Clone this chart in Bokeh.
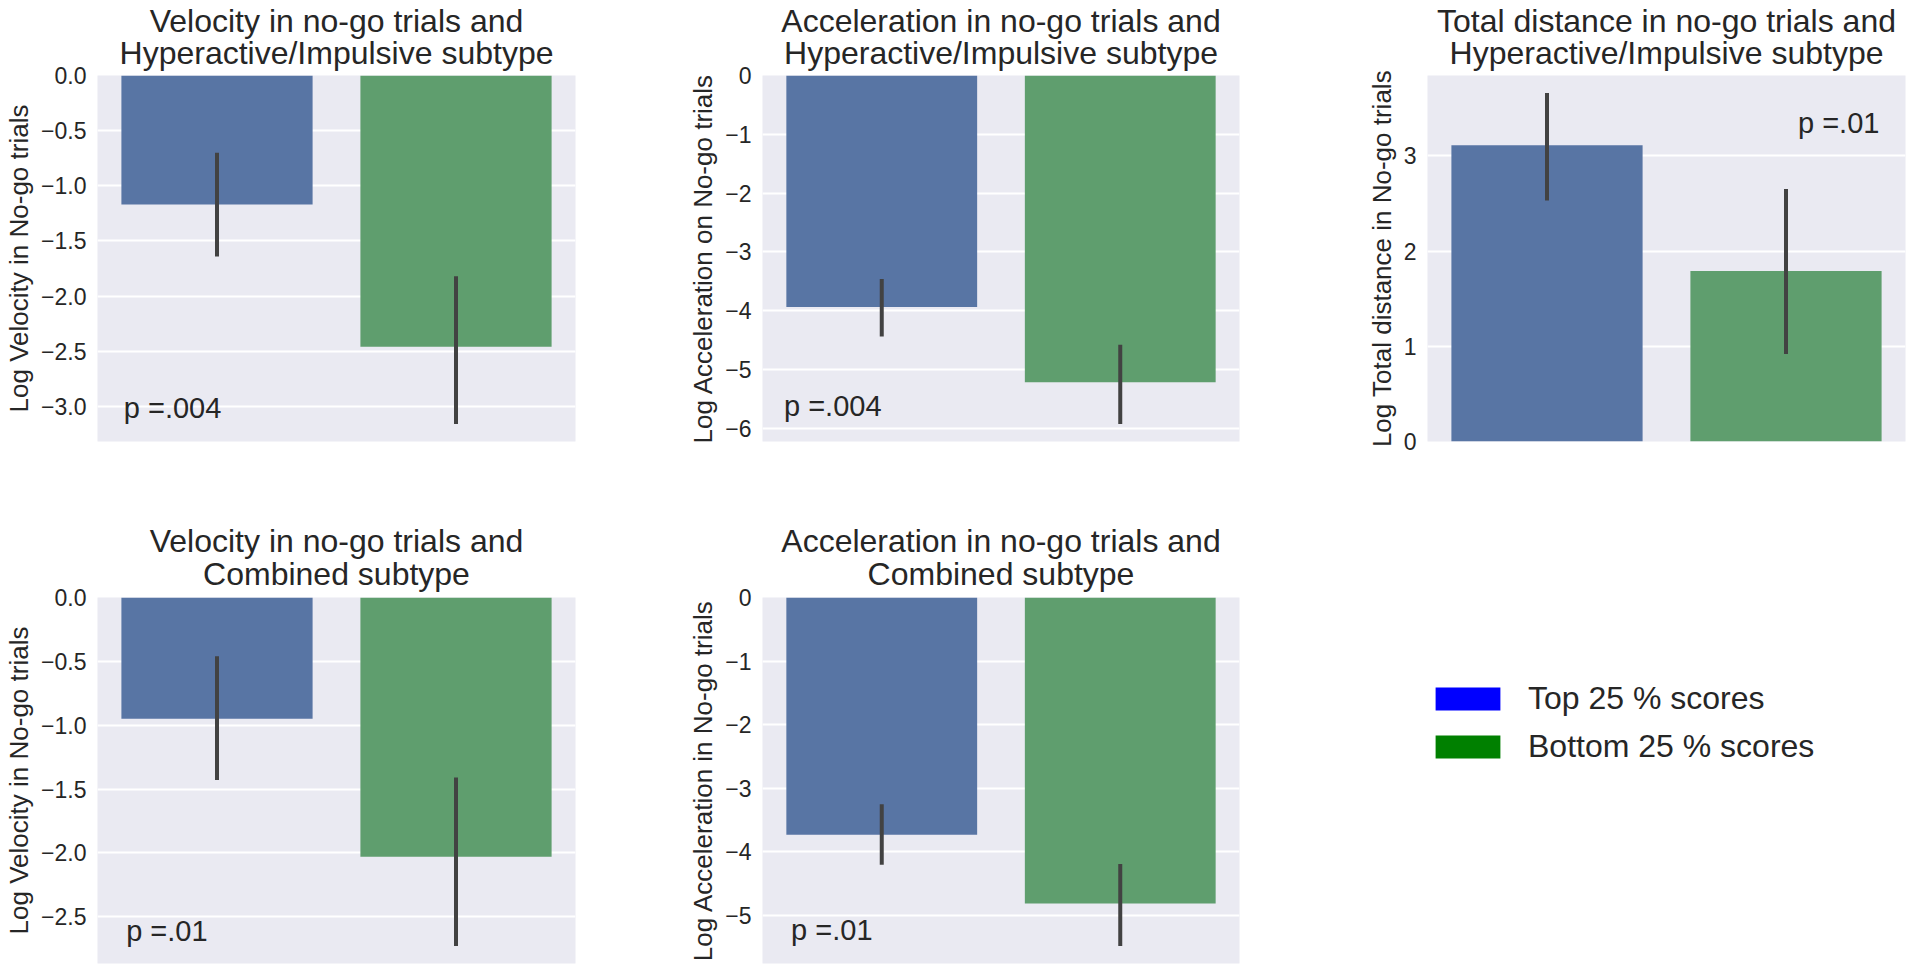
from bokeh.plotting import figure
from bokeh.models import Range1d, FixedTicker, Legend, LegendItem, ColumnDataSource, Title
from bokeh.layouts import column, row
from bokeh.embed import file_html
from bokeh.resources import INLINE
from bokeh.core.properties import value

# ---------------- data ----------------
groups = ["Top 25 % scores", "Bottom 25 % scores"]
legend_colors = ["blue", "green"]
bar_colors = ["#5875A4", "#5F9E6E"]

vel_hi_mean = [-1.17, -2.46]
vel_hi_lo = [-1.64, -3.16]
vel_hi_hi = [-0.70, -1.82]

acc_hi_mean = [-3.94, -5.22]
acc_hi_lo = [-4.44, -5.93]
acc_hi_hi = [-3.46, -4.58]

dist_hi_mean = [3.11, 1.79]
dist_hi_lo = [2.53, 0.92]
dist_hi_hi = [3.66, 2.65]

vel_comb_mean = [-0.95, -2.03]
vel_comb_lo = [-1.43, -2.73]
vel_comb_hi = [-0.46, -1.41]

acc_comb_mean = [-3.73, -4.81]
acc_comb_lo = [-4.20, -5.48]
acc_comb_hi = [-3.25, -4.19]

ticks_vel_hi = [0.0, -0.5, -1.0, -1.5, -2.0, -2.5, -3.0]
labels_vel_hi = ["0.0", "\u22120.5", "\u22121.0", "\u22121.5", "\u22122.0", "\u22122.5", "\u22123.0"]
ticks_acc_hi = [0, -1, -2, -3, -4, -5, -6]
labels_acc_hi = ["0", "\u22121", "\u22122", "\u22123", "\u22124", "\u22125", "\u22126"]
ticks_dist_hi = [0, 1, 2, 3]
labels_dist_hi = ["0", "1", "2", "3"]
ticks_vel_comb = [0.0, -0.5, -1.0, -1.5, -2.0, -2.5]
labels_vel_comb = ["0.0", "\u22120.5", "\u22121.0", "\u22121.5", "\u22122.0", "\u22122.5"]
ticks_acc_comb = [0, -1, -2, -3, -4, -5]
labels_acc_comb = ["0", "\u22121", "\u22122", "\u22123", "\u22124", "\u22125"]

titles = [
    ["Velocity in no-go trials and", "Hyperactive/Impulsive subtype"],
    ["Acceleration in no-go trials and", "Hyperactive/Impulsive subtype"],
    ["Total distance in no-go trials and", "Hyperactive/Impulsive subtype"],
    ["Velocity in no-go trials and", "Combined subtype"],
    ["Acceleration in no-go trials and", "Combined subtype"],
]
ylabels = [
    "Log Velocity in No-go trials",
    "Log Acceleration on No-go trials",
    "Log Total distance in No-go trials",
    "Log Velocity in No-go trials",
    "Log Acceleration in No-go trials",
]
p_texts = ["p =.004", "p =.004", "p =.01", "p =.01", "p =.01"]

FONT = "Liberation Sans"
TXT = "#262626"
FH = 366


def panel(title_lines, ylabel, mean, lo, hi, ticks, tick_labels, ptext, px, py,
          left, right, top, bottom, fw, s1, s2):
    y0 = min(lo + [0]) * 1.05
    y1 = max(hi + [0]) * 1.05
    p = figure(frame_width=fw, frame_height=FH,
               x_range=Range1d(-0.5, 1.5), y_range=Range1d(y0, y1),
               toolbar_location=None, output_backend="svg",
               min_border_left=left, min_border_right=right,
               min_border_top=top, min_border_bottom=bottom,
               background_fill_color="#EAEAF2", border_fill_color="white",
               outline_line_color=None)
    # second line sits next to the frame, first line above it
    for txt, st in ((title_lines[1], s2), (title_lines[0], s1)):
        p.add_layout(Title(text=txt, align="center", text_font=FONT,
                           text_font_size="32px", text_font_style="normal",
                           text_color=TXT, standoff=st), "above")
    p.xaxis.visible = False
    p.xgrid.visible = False
    p.ygrid.grid_line_color = "white"
    p.ygrid.grid_line_width = 2
    ax = p.yaxis[0]
    ax.ticker = FixedTicker(ticks=ticks)
    ax.major_label_overrides = {t: l for t, l in zip(ticks, tick_labels)}
    ax.axis_line_color = None
    ax.major_tick_line_color = None
    ax.minor_tick_line_color = None
    ax.major_tick_out = 0
    ax.major_tick_in = 0
    ax.minor_tick_out = 0
    ax.minor_tick_in = 0
    ax.major_label_text_font = FONT
    ax.major_label_text_font_size = "23px"
    ax.major_label_text_color = TXT
    ax.major_label_standoff = 11
    ax.axis_label = ylabel
    ax.axis_label_text_font = FONT
    ax.axis_label_text_font_size = "26px"
    ax.axis_label_text_font_style = "normal"
    ax.axis_label_text_color = TXT
    ax.axis_label_standoff = 4

    xs = list(range(len(groups)))
    src = ColumnDataSource(dict(x=xs, top=mean, lo=lo, hi=hi, color=bar_colors))
    p.vbar(x="x", top="top", bottom=0, width=0.8, fill_color="color",
           line_color=None, source=src)
    p.segment(x0="x", y0="lo", x1="x", y1="hi", line_color="#424242",
              line_width=4, source=src)
    p.text(x=[px], y=[py], text=[ptext], text_font=value(FONT),
           text_font_size="29px", text_color=TXT, text_align="left",
           text_baseline="alphabetic")
    return p


f1 = panel(titles[0], ylabels[0], vel_hi_mean, vel_hi_lo, vel_hi_hi,
           ticks_vel_hi, labels_vel_hi, p_texts[0], -0.39, -3.01,
           97, 105, 75, 79, 478, -23, 10)
f2 = panel(titles[1], ylabels[1], acc_hi_mean, acc_hi_lo, acc_hi_hi,
           ticks_acc_hi, labels_acc_hi, p_texts[1], -0.41, -5.62,
           82, 106, 75, 79, 477, -23, 10)
f3 = panel(titles[2], ylabels[2], dist_hi_mean, dist_hi_lo, dist_hi_hi,
           ticks_dist_hi, labels_dist_hi, p_texts[2], 1.05, 3.34,
           82, 2, 75, 79, 478, -23, 10)
f4 = panel(titles[3], ylabels[3], vel_comb_mean, vel_comb_lo, vel_comb_hi,
           ticks_vel_comb, labels_vel_comb, p_texts[3], -0.38, -2.61,
           97, 105, 77, 10, 478, -22, 12)
f5 = panel(titles[4], ylabels[4], acc_comb_mean, acc_comb_lo, acc_comb_hi,
           ticks_acc_comb, labels_acc_comb, p_texts[4], -0.38, -5.23,
           82, 106, 77, 10, 477, -22, 12)

# legend panel (renderers sit outside the visible range; only the legend shows)
f6 = figure(frame_width=562, frame_height=453, x_range=Range1d(0, 1),
            y_range=Range1d(0, 1), toolbar_location=None, output_backend="svg",
            min_border=0, outline_line_color=None,
            background_fill_color="white", border_fill_color="white")
f6.axis.visible = False
f6.grid.visible = False
items = []
for g, c in zip(groups, legend_colors):
    r = f6.vbar(x=[5], top=[5], bottom=[4], width=0.5, fill_color=c, line_color=None)
    items.append(LegendItem(label=g, renderers=[r]))
leg = Legend(items=items, location=(82, 208), glyph_width=81, glyph_height=29,
             label_height=29, label_standoff=20, label_text_font=FONT,
             label_text_font_size="32px", label_text_color=TXT,
             border_line_color=None, background_fill_alpha=0,
             padding=0, margin=0, spacing=11)
f6.add_layout(leg)

layout = column(row(f1, f2, f3), row(f4, f5, f6))
open("out.html", "w").write(file_html(layout, INLINE))
